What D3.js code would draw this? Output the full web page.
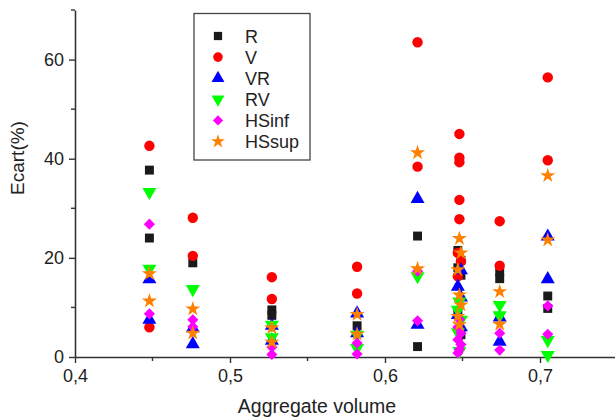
<!DOCTYPE html>
<html lang="en">
<head>
<meta charset="utf-8">
<title>Ecart vs aggregate volume</title>
<script src="https://d3js.org/d3.v7.min.js"></script>
<style>
  body { margin: 0; background: #fff; }
  text { font-family: Arial, "Liberation Sans", sans-serif; fill: #222; }
</style>
</head>
<body>
<script>
// chart size
var w = 615, h = 419;

// series names and colours
var names = ["R", "V", "VR", "RV", "HSinf", "HSsup"];
var colors = ["#1a1a1a", "#ff0000", "#0000ff", "#00ff00", "#ff00ff", "#ff8000"];

// data: [aggregate volume, ecart %]
var dataR = [[0.448,37.7],[0.448,24.0],[0.476,19.0],[0.527,9.5],[0.527,8.4],[0.582,6.3],
  [0.621,24.4],[0.621,2.1],[0.647,21.5],[0.649,19.5],[0.647,18.0],[0.649,16.5],[0.647,9.0],[0.649,4.5],
  [0.674,17.2],[0.674,15.8],[0.705,12.3],[0.705,9.8]];
var dataV = [[0.448,42.6],[0.448,6.0],[0.476,28.1],[0.476,20.4],[0.527,16.1],[0.527,11.7],
  [0.582,18.2],[0.582,12.8],[0.621,63.5],[0.621,38.4],[0.648,45.0],[0.648,40.2],[0.648,39.3],
  [0.648,31.7],[0.648,27.8],[0.647,21.0],[0.649,19.3],[0.647,16.3],[0.674,27.4],[0.674,18.4],
  [0.705,56.4],[0.705,39.7]];
var dataVR = [[0.448,15.7],[0.448,7.5],[0.476,5.8],[0.476,2.6],[0.527,6.3],[0.527,3.3],
  [0.582,8.8],[0.582,4.8],[0.621,31.9],[0.621,6.5],[0.649,17.5],[0.647,14.2],[0.649,12.0],
  [0.647,8.5],[0.649,6.0],[0.674,8.0],[0.674,3.1],[0.705,24.3],[0.705,15.7]];
var dataRV = [[0.448,33.3],[0.448,17.8],[0.476,13.7],[0.527,6.5],[0.527,4.0],[0.582,4.5],
  [0.582,1.8],[0.621,16.3],[0.648,11.2],[0.647,9.5],[0.649,7.5],[0.647,5.0],[0.648,1.2],
  [0.674,10.5],[0.674,8.4],[0.705,3.4],[0.705,0.4]];
var dataHSinf = [[0.448,26.8],[0.448,8.7],[0.476,7.5],[0.476,6.1],[0.527,2.0],[0.527,0.5],
  [0.582,2.8],[0.582,0.6],[0.621,17.3],[0.621,7.3],[0.648,7.6],[0.647,6.0],[0.649,4.8],
  [0.647,3.5],[0.649,2.5],[0.648,1.5],[0.647,0.8],[0.674,4.8],[0.674,1.4],[0.705,10.3],[0.705,4.6]];
var dataHSsup = [[0.448,16.8],[0.448,11.3],[0.476,9.7],[0.476,4.8],[0.527,5.9],[0.527,3.0],
  [0.582,8.6],[0.582,4.6],[0.621,41.2],[0.621,17.8],[0.648,23.9],[0.649,21.0],[0.647,17.6],
  [0.648,12.5],[0.649,10.5],[0.647,8.2],[0.648,6.5],[0.674,13.2],[0.674,6.6],[0.705,36.6],[0.705,23.6]];

var series = [dataR, dataV, dataVR, dataRV, dataHSinf, dataHSsup];

// tick values
var xTicks = [0.4, 0.5, 0.6, 0.7];
var xMinor = [0.45, 0.55, 0.65, 0.75];
var yTicks = [0, 20, 40, 60];
var yMinor = [10, 30, 50, 70];

// scales
var xScale = d3.scaleLinear().domain([0.4, 0.75]).range([75, 617.5]);
var yScale = d3.scaleLinear().domain([0, 70]).range([357, 10]);

// marker shapes (diamond = square turned 45 degrees)
var shapes = [
  {type: d3.symbolSquare, size: 80, rot: 0},
  {type: d3.symbolCircle, size: 85, rot: 0},
  {type: d3.symbolTriangle, size: 85, rot: 0},
  {type: d3.symbolTriangle, size: 85, rot: 180},
  {type: d3.symbolSquare, size: 62, rot: 45},
  {type: d3.symbolStar, size: 70, rot: 0}
];

var svg = d3.select("body").append("svg")
  .attr("width", w).attr("height", h);

// axes
var xAxis = d3.axisBottom(xScale).tickValues(xTicks)
  .tickFormat(function(d){ return d3.format(".1f")(d).replace(".", ","); })
  .tickSize(6).tickSizeOuter(0).tickPadding(6);
var gx = svg.append("g").attr("transform", "translate(0," + yScale(0) + ")").call(xAxis);
gx.append("g").selectAll("line").data(xMinor).enter().append("line")
  .attr("x1", function(d){ return xScale(d); }).attr("x2", function(d){ return xScale(d); })
  .attr("y1", 0).attr("y2", 4);

var yAxis = d3.axisLeft(yScale).tickValues(yTicks)
  .tickSize(6).tickSizeOuter(0).tickPadding(5);
var gy = svg.append("g").attr("transform", "translate(" + xScale(0.4) + ",0)").call(yAxis);
gy.append("g").selectAll("line").data(yMinor).enter().append("line")
  .attr("y1", function(d){ return yScale(d); }).attr("y2", function(d){ return yScale(d); })
  .attr("x1", 0).attr("x2", -4);

[gx, gy].forEach(function(g){
  g.selectAll("path.domain").attr("stroke", "#333").attr("stroke-width", 1.6);
  g.selectAll("line").attr("stroke", "#333").attr("stroke-width", 1.4);
  g.selectAll("text").attr("font-size", "18px").attr("fill", "#222")
    .attr("font-family", "Arial, 'Liberation Sans', sans-serif");
});

// axis titles
svg.append("text").attr("x", 317).attr("y", 413).attr("text-anchor", "middle")
  .attr("font-size", "19.5px").text("Aggregate volume");
svg.append("text").attr("transform", "translate(24,158) rotate(-90)")
  .attr("text-anchor", "middle").attr("font-size", "19px").text("Ecart(%)");

// points
series.forEach(function(data, i){
  var sym = d3.symbol().type(shapes[i].type).size(shapes[i].size);
  svg.append("g").selectAll("path").data(data).enter().append("path")
    .attr("d", sym)
    .attr("transform", function(d){
      return "translate(" + xScale(d[0]) + "," + yScale(d[1]) + ") rotate(" + shapes[i].rot + ")";
    })
    .attr("fill", colors[i]);
});

// legend
var legend = svg.append("g");
legend.append("rect").attr("x", 194).attr("y", 13.5).attr("width", 116).attr("height", 146.5)
  .attr("fill", "#fff").attr("stroke", "#444").attr("stroke-width", 1.3);
names.forEach(function(n, i){
  var yy = 36 + i * 21.1;
  legend.append("path")
    .attr("d", d3.symbol().type(shapes[i].type).size(shapes[i].size * 0.85))
    .attr("transform", "translate(218," + yy + ") rotate(" + shapes[i].rot + ")")
    .attr("fill", colors[i]);
  legend.append("text").attr("x", 245).attr("y", yy + 6.5)
    .attr("font-size", "18px").text(n);
});
</script>
</body>
</html>
